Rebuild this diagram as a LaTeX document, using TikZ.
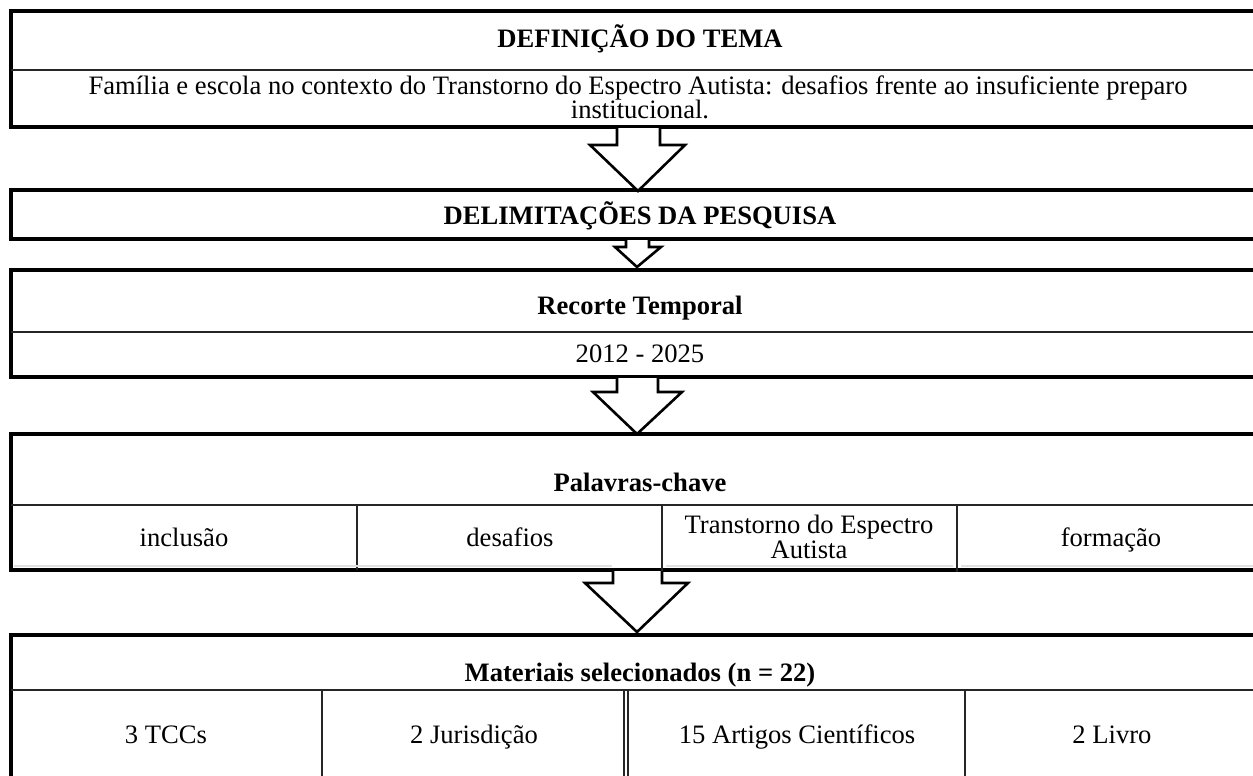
\documentclass[tikz,border=0pt]{standalone}
\usepackage{fontspec}
\setmainfont{Liberation Serif}
\begin{document}
\begin{tikzpicture}[x=0.5pt,y=-0.5pt,
  outer/.style={draw=black,line width=1.6pt},
  inner/.style={draw=black!85,line width=0.8pt},
  cell/.style={draw=black!85,line width=0.9pt},
  lbl/.style={font=\fontsize{13.3}{11}\selectfont,anchor=base,inner sep=0pt,text height=9pt,text depth=2.3pt},
  ttl/.style={lbl,font=\fontsize{13.3}{11}\selectfont\bfseries},
  barrow/.style={draw=black,line width=1.3pt,fill=white,line join=miter}]
\useasboundingbox (0,0) rectangle (1253,776);
% Box 1
\draw[outer] (1300,11) -- (11,11) -- (11,127) -- (1300,127);
\draw[inner] (11,70) -- (1300,70);
\node[ttl] (t1) at (640,47) {DEFINIÇÃO DO TEMA};
\node[lbl] (d1) at (638,94) {Família e escola no contexto do Transtorno do Espectro Autista: desafios frente ao insuficiente preparo};
\node[lbl] (d1b) at (640,118) {institucional.};
% Box 2
\draw[outer] (1300,190) -- (11,190) -- (11,239) -- (1300,239);
\node[ttl] (t2) at (640,224) {DELIMITAÇÕES DA PESQUISA};
% Box 3
\draw[outer] (1300,270) -- (11,270) -- (11,377) -- (1300,377);
\draw[inner] (11,332) -- (1300,332);
\node[ttl] (t3) at (640,314) {Recorte Temporal};
\node[lbl] (d3) at (640,362) {2012 - 2025};
% Box 4
\draw[outer] (1300,434) -- (11,434) -- (11,570) -- (1300,570);
\draw[inner] (11,505) -- (1300,505);
\draw[cell] (357,505) -- (357,570);
\draw[cell] (662,505) -- (662,572);
\draw[cell] (957,505) -- (957,572);
\draw[black!12,line width=1pt] (14,566) -- (612,566);
\draw[black!12,line width=1pt] (666,566) -- (953,566);
\draw[black!12,line width=1pt] (961,566) -- (1300,566);
\node[ttl] (t4) at (640,491) {Palavras-chave};
\node[lbl] (k1) at (184,546) {inclusão};
\node[lbl] (k2) at (510,546) {desafios};
\node[lbl] (k3) at (809,533) {Transtorno do Espectro};
\node[lbl] (k3b) at (809,558) {Autista};
\node[lbl] (k4) at (1111,546) {formação};
% Box 5
\draw[outer] (1300,635) -- (11,635) -- (11,790);
\draw[inner] (11,690) -- (1300,690);
\draw[cell] (322,690) -- (322,790);
\draw[cell] (624,690) -- (624,790);
\draw[cell] (628,690) -- (628,790);
\draw[cell] (965,690) -- (965,790);
\node[ttl] (t5) at (640,681) {Materiais selecionados (n = 22)};
\node[lbl] (m1) at (166,743) {3 TCCs};
\node[lbl] (m2) at (474,743) {2 Jurisdição};
\node[lbl] (m3) at (797,743) {15 Artigos Científicos};
\node[lbl] (m4) at (1112,743) {2 Livro};
% Block arrows
\draw[barrow] (617,128) -- (617,145) -- (590,145) -- (638,191) -- (685,145) -- (660,145) -- (660,128);
\draw[barrow] (626,240) -- (626,247) -- (615,247) -- (637,267) -- (661,247) -- (649,247) -- (649,240);
\draw[barrow] (617,378) -- (617,392) -- (593,392) -- (637,434) -- (682,392) -- (658,392) -- (658,378);
\draw[barrow] (613,571) -- (613,583) -- (585,583) -- (637,632) -- (688,583) -- (662,583) -- (662,571);
\end{tikzpicture}
\end{document}
